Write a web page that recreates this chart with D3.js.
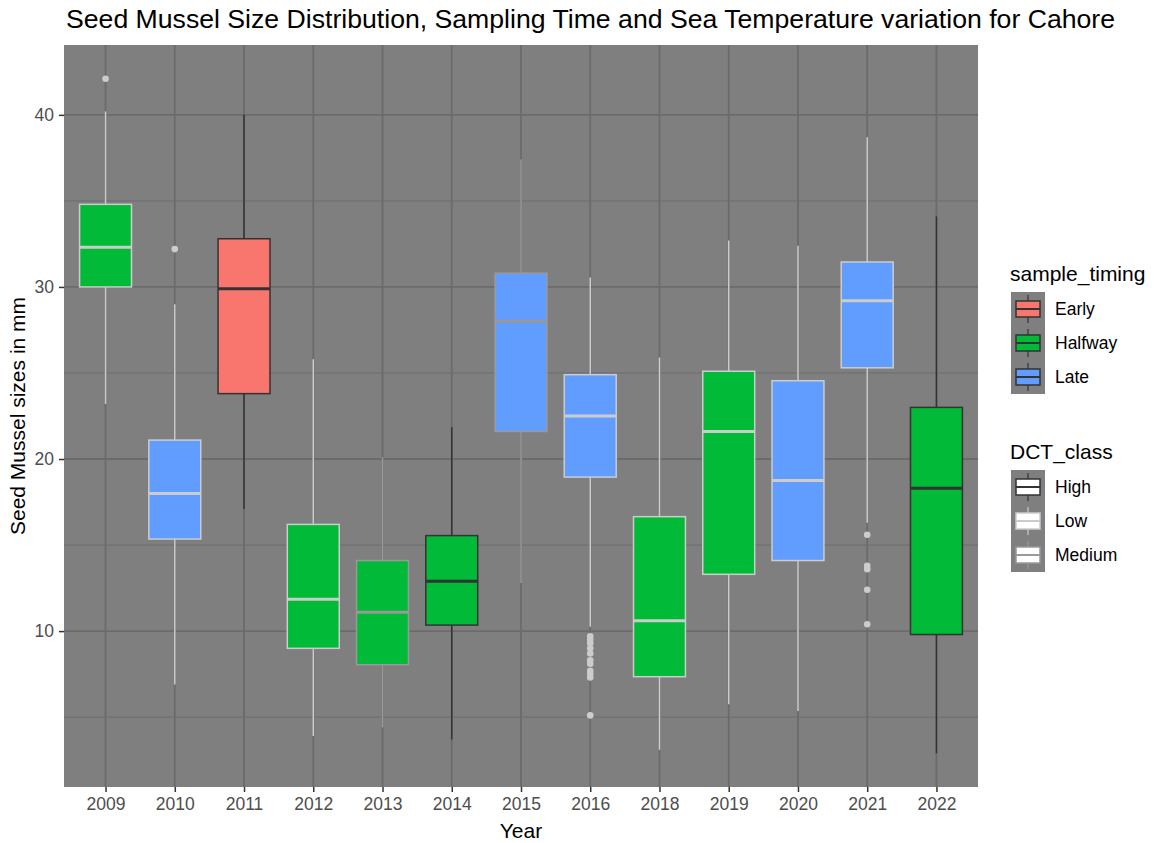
<!DOCTYPE html>
<html>
<head>
<script src="https://d3js.org/d3.v7.min.js"></script>
<style>
  body { margin: 0; background: #fff; }
  text { font-family: "Liberation Sans", Arial, sans-serif; }
</style>
</head>
<body>
<svg id="chart" width="1158" height="843"></svg>
<script>
// data
const years = ["2009","2010","2011","2012","2013","2014","2015","2016","2018","2019","2020","2021","2022"];
const timing = ["Halfway","Late","Early","Halfway","Halfway","Halfway","Late","Late","Halfway","Halfway","Late","Late","Halfway"];
const dctClass = ["Low","Low","High","Low","Medium","High","Medium","Low","Low","Low","Low","Low","High"];
const whiskerLow  = [23.2, 6.9, 17.1, 3.9, 4.4, 3.7, 12.8, 10.25, 3.1, 5.75, 5.35, 16.3, 2.9];
const q1          = [30.0, 15.35, 23.8, 9.0, 8.05, 10.35, 21.6, 18.95, 7.35, 13.3, 14.1, 25.3, 9.8];
const medians     = [32.3, 18.0, 29.9, 11.85, 11.1, 12.9, 28.0, 22.5, 10.6, 21.6, 18.75, 29.2, 18.3];
const q3          = [34.8, 21.1, 32.8, 16.2, 14.1, 15.55, 30.8, 24.9, 16.65, 25.1, 24.55, 31.45, 23.0];
const whiskerHigh = [40.2, 29.0, 40.0, 25.8, 20.1, 21.85, 37.4, 30.55, 25.9, 32.7, 32.4, 38.7, 34.1];
const outliers = [
  [42.1], [32.2], [], [], [], [], [],
  [9.7, 9.5, 9.3, 9.0, 8.7, 8.3, 8.1, 7.7, 7.5, 7.3, 5.1],
  [], [], [], [15.6, 13.8, 13.6, 12.4, 10.4], []
];
const timingLevels = ["Early","Halfway","Late"];
const timingColors = ["#F8766D","#00BA38","#619CFF"];
const dctLevels = ["High","Low","Medium"];
const dctColors = ["#333333","#cccccc","#999999"];
const yTicks = [10, 20, 30, 40];
const yMinor = [5, 15, 25, 35];

const boxes = years.map((y, i) => ({
  year: y, timing: timing[i], dct: dctClass[i],
  lo: whiskerLow[i], q1: q1[i], med: medians[i], q3: q3[i], hi: whiskerHigh[i],
  out: outliers[i]
}));

const svg = d3.select("#chart");
const panel = {left: 64, right: 978, top: 45, bottom: 787};

const allVals = boxes.flatMap(d => [d.lo, d.hi, ...d.out]);
const [vmin, vmax] = d3.extent(allVals);
const pad = (vmax - vmin) * 0.05;

const x = d3.scalePoint().domain(years).range([panel.left, panel.right]).padding(0.6);
const y = d3.scaleLinear().domain([vmin - pad, vmax + pad]).range([panel.bottom, panel.top]);
const fillScale = d3.scaleOrdinal().domain(timingLevels).range(timingColors);
const colScale = d3.scaleOrdinal().domain(dctLevels).range(dctColors);
const boxW = x.step() * 0.75;

// panel background and gridlines
svg.append("rect")
  .attr("x", panel.left).attr("y", panel.top)
  .attr("width", panel.right - panel.left).attr("height", panel.bottom - panel.top)
  .attr("fill", "#7f7f7f");

const grid = svg.append("g").attr("stroke", "#6b6b6b");
grid.selectAll("line.minor").data(yMinor).join("line")
  .attr("class", "minor")
  .attr("x1", panel.left).attr("x2", panel.right)
  .attr("y1", d => y(d)).attr("y2", d => y(d))
  .attr("stroke-width", 0.9);
grid.selectAll("line.major").data(yTicks).join("line")
  .attr("class", "major")
  .attr("x1", panel.left).attr("x2", panel.right)
  .attr("y1", d => y(d)).attr("y2", d => y(d))
  .attr("stroke-width", 1.8);
grid.selectAll("line.vmajor").data(years).join("line")
  .attr("class", "vmajor")
  .attr("x1", d => x(d)).attr("x2", d => x(d))
  .attr("y1", panel.top).attr("y2", panel.bottom)
  .attr("stroke-width", 1.8);

// boxplots
const g = svg.append("g");
const bp = g.selectAll("g.box").data(boxes).join("g").attr("class", "box");

bp.append("line")
  .attr("x1", d => x(d.year)).attr("x2", d => x(d.year))
  .attr("y1", d => y(d.hi)).attr("y2", d => y(d.q3))
  .attr("stroke", d => colScale(d.dct)).attr("stroke-width", 1.5);
bp.append("line")
  .attr("x1", d => x(d.year)).attr("x2", d => x(d.year))
  .attr("y1", d => y(d.q1)).attr("y2", d => y(d.lo))
  .attr("stroke", d => colScale(d.dct)).attr("stroke-width", 1.5);
bp.append("rect")
  .attr("x", d => x(d.year) - boxW / 2)
  .attr("y", d => y(d.q3))
  .attr("width", boxW)
  .attr("height", d => y(d.q1) - y(d.q3))
  .attr("fill", d => fillScale(d.timing))
  .attr("stroke", d => colScale(d.dct)).attr("stroke-width", 1.5);
bp.append("line")
  .attr("x1", d => x(d.year) - boxW / 2).attr("x2", d => x(d.year) + boxW / 2)
  .attr("y1", d => y(d.med)).attr("y2", d => y(d.med))
  .attr("stroke", d => colScale(d.dct)).attr("stroke-width", 3);
bp.selectAll("circle").data(d => d.out.map(v => ({v, year: d.year, dct: d.dct}))).join("circle")
  .attr("cx", d => x(d.year)).attr("cy", d => y(d.v)).attr("r", 3.3)
  .attr("fill", d => colScale(d.dct));

// axes
const xAxis = svg.append("g")
  .attr("transform", `translate(0,${panel.bottom})`)
  .call(d3.axisBottom(x).tickSize(5).tickPadding(6));
const yAxis = svg.append("g")
  .attr("transform", `translate(${panel.left},0)`)
  .call(d3.axisLeft(y).tickValues(yTicks).tickSize(5).tickPadding(5));
[xAxis, yAxis].forEach(a => {
  a.select(".domain").remove();
  a.selectAll(".tick line").attr("stroke", "#333333").attr("stroke-width", 1.5);
  a.selectAll(".tick text")
    .attr("fill", "#4d4d4d")
    .style("font-size", "17.5px")
    .style("font-family", "Liberation Sans, Arial, sans-serif");
});

// titles
svg.append("text")
  .attr("x", 66).attr("y", 28)
  .style("font-size", "25px")
  .attr("textLength", 1049).attr("lengthAdjust", "spacingAndGlyphs")
  .attr("fill", "#000")
  .text("Seed Mussel Size Distribution, Sampling Time and Sea Temperature variation for Cahore");
svg.append("text")
  .attr("x", (panel.left + panel.right) / 2).attr("y", 838)
  .attr("text-anchor", "middle")
  .style("font-size", "21px")
  .text("Year");
svg.append("text")
  .attr("transform", `translate(25,${(panel.top + panel.bottom) / 2}) rotate(-90)`)
  .attr("text-anchor", "middle")
  .style("font-size", "21px")
  .text("Seed Mussel sizes in mm");

// legends
function drawKey(kg, fill, stroke) {
  kg.append("rect").attr("width", 34).attr("height", 34).attr("fill", "#7f7f7f");
  kg.append("line").attr("x1", 17).attr("x2", 17).attr("y1", 3).attr("y2", 31)
    .attr("stroke", stroke).attr("stroke-width", 1.2);
  kg.append("rect").attr("x", 5).attr("y", 9).attr("width", 24).attr("height", 16)
    .attr("fill", fill).attr("stroke", stroke).attr("stroke-width", 1.5);
  kg.append("line").attr("x1", 5).attr("x2", 29).attr("y1", 17).attr("y2", 17)
    .attr("stroke", stroke).attr("stroke-width", 2);
}

function legend(title, levels, top, keyFn) {
  const lg = svg.append("g").attr("transform", `translate(1011,${top})`);
  lg.append("text").attr("x", -1).attr("y", -11)
    .style("font-size", "21px").text(title);
  levels.forEach((lv, i) => {
    const kg = lg.append("g").attr("transform", `translate(0,${i * 34})`);
    keyFn(kg, lv);
    kg.append("text").attr("x", 44).attr("y", 17).attr("dy", "0.35em")
      .style("font-size", "17.5px").text(lv);
  });
}

legend("sample_timing", timingLevels, 292, (kg, lv) => drawKey(kg, fillScale(lv), "#333333"));
legend("DCT_class", dctLevels, 470, (kg, lv) => drawKey(kg, "#ffffff", colScale(lv)));
</script>
</body>
</html>
